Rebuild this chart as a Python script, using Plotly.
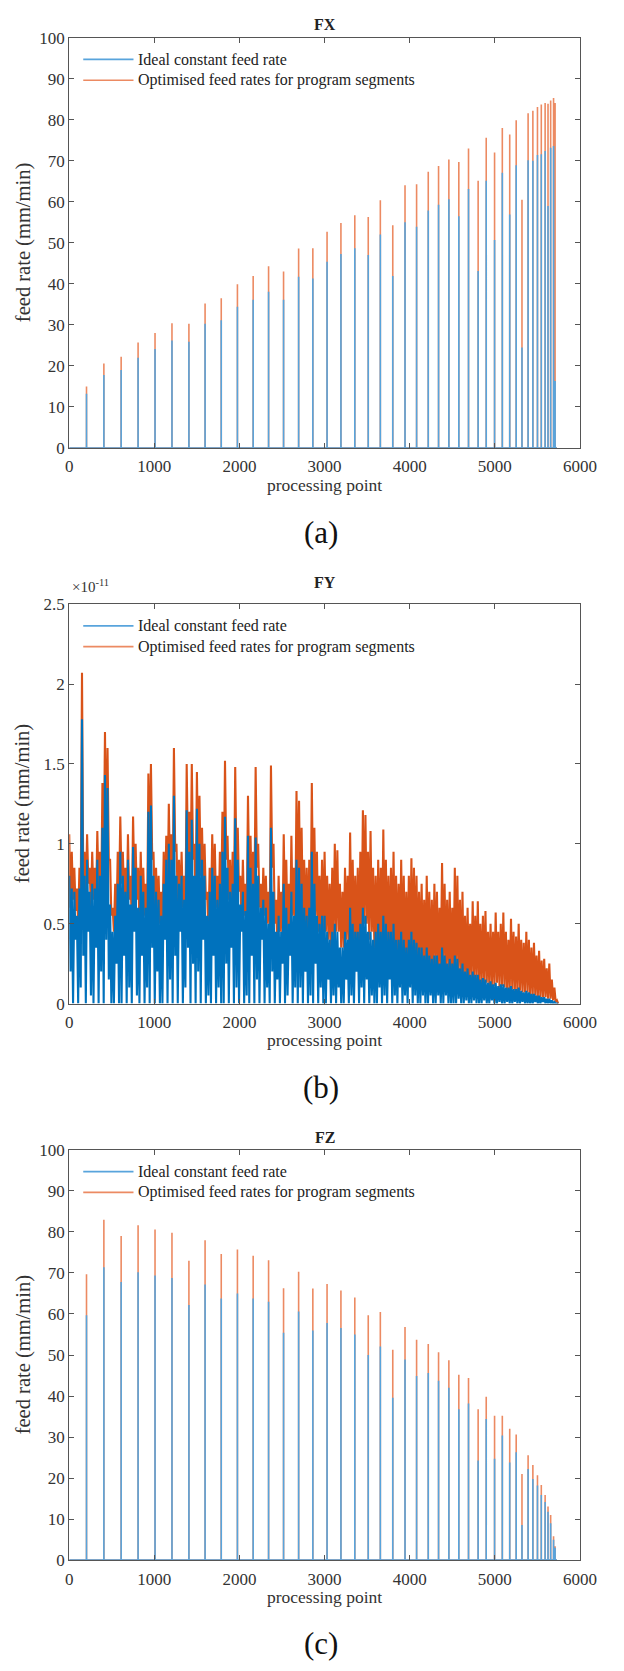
import plotly.graph_objects as go

FIG_W, FIG_H = 624, 1671
N_POINTS = 5730

# ---------------- data ----------------
# processing points where a new program segment starts (FX and FZ spikes)
seg_pos = [203, 407, 610, 809, 1008, 1207, 1406, 1596, 1786, 1976, 2161, 2342, 2518, 2695,
           2862, 3029, 3192, 3355, 3513, 3655, 3801, 3945, 4081, 4218, 4339, 4460, 4577, 4691,
           4804, 4899, 4997, 5088, 5175, 5251, 5319, 5391, 5447, 5501, 5546, 5591, 5625, 5656,
           5690, 5708]

fx_ideal = [13.2, 17.8, 19.0, 22.0, 24.1, 26.2, 25.9, 30.3, 31.1, 34.4, 36.1, 38.1, 36.1, 41.7,
            41.3, 45.4, 47.3, 48.7, 47.0, 52.0, 41.9, 55.0, 53.9, 57.9, 59.3, 60.6, 56.5, 63.1,
            43.1, 65.1, 50.7, 67.1, 56.9, 68.9, 24.5, 70.1, 70.0, 71.4, 71.6, 72.4, 59.0, 73.2,
            73.6, 16.3]
fx_opt = [15.0, 20.6, 22.2, 25.7, 28.0, 30.4, 30.3, 35.2, 36.5, 39.9, 41.9, 44.3, 43.0, 48.6,
          48.7, 52.7, 54.8, 56.7, 56.3, 60.4, 54.3, 64.0, 64.3, 67.3, 68.7, 70.3, 69.7, 73.0,
          65.1, 75.6, 72.0, 78.0, 76.4, 79.9, 60.5, 81.6, 82.2, 83.1, 83.7, 84.1, 83.9, 84.7,
          85.3, 84.1]

fz_ideal = [59.7, 71.4, 67.8, 70.2, 69.4, 68.8, 62.2, 67.2, 63.8, 65.0, 63.8, 63.0, 55.4, 60.6,
            56.0, 57.8, 56.6, 55.0, 50.0, 52.1, 39.6, 48.9, 44.9, 45.6, 43.7, 42.0, 36.8, 38.2,
            24.3, 34.4, 24.7, 30.4, 23.8, 26.3, 8.6, 22.2, 19.8, 18.2, 15.9, 14.2, 11.8, 9.0,
            5.0, 3.0]
fz_opt = [69.7, 83.0, 79.0, 81.6, 80.6, 79.8, 73.0, 78.0, 74.6, 75.7, 74.2, 73.1, 66.3, 70.3,
          66.2, 67.3, 65.7, 64.0, 59.7, 60.5, 51.3, 56.8, 53.7, 52.7, 50.7, 48.7, 45.2, 44.4,
          36.8, 39.8, 35.2, 35.2, 32.0, 30.6, 21.0, 25.6, 23.2, 20.7, 18.3, 15.9, 13.1, 11.0,
          5.8, 3.4]

# FY (units of 1e-11 mm/min): local maxima / minima read every 30 processing points
FY_STEP = 30
fy_opt_hi = [1.06, 0.95, 0.85, 0.72, 0.85, 2.07, 0.95, 1.06, 0.85, 0.95,
             0.85, 1.08, 0.95, 1.38, 1.70, 1.60, 0.90, 0.60, 0.75, 0.95,
             1.17, 0.95, 0.85, 1.06, 0.80, 1.17, 1.00, 0.85, 0.95, 0.85,
             0.75, 1.44, 1.50, 0.95, 0.85, 0.80, 0.70, 0.95, 1.05, 1.25,
             1.06, 1.60, 1.00, 0.90, 0.95, 0.80, 1.50, 1.20, 1.50, 1.00,
             1.45, 1.30, 1.10, 1.00, 0.70, 0.85, 1.06, 1.00, 0.80, 0.95,
             1.20, 1.52, 1.05, 0.90, 0.95, 1.48, 1.10, 0.80, 0.90, 0.75,
             1.30, 1.05, 0.95, 1.48, 1.00, 0.75, 0.85, 0.80, 0.70, 1.49,
             1.00, 0.65, 0.80, 0.70, 1.06, 0.90, 0.75, 1.05, 0.85, 1.33,
             1.27, 1.10, 0.90, 0.85, 0.90, 1.38, 1.10, 0.95, 0.80, 0.90,
             0.95, 0.80, 0.75, 0.85, 1.00, 0.96, 0.75, 0.70, 0.85, 0.80,
             1.07, 0.90, 0.80, 0.85, 0.95, 1.21, 1.18, 0.95, 1.08, 0.85,
             0.80, 0.90, 0.85, 1.09, 0.90, 0.80, 0.85, 0.95, 0.80, 0.75,
             0.90, 0.80, 0.70, 0.80, 0.91, 0.85, 0.80, 0.70, 0.75, 0.65,
             0.80, 0.70, 0.65, 0.75, 0.70, 0.60, 0.88, 0.75, 0.65, 0.70,
             0.60, 0.85, 0.80, 0.65, 0.70, 0.55, 0.60, 0.50, 0.64, 0.55,
             0.64, 0.50, 0.55, 0.58, 0.45, 0.50, 0.45, 0.57, 0.45, 0.50,
             0.57, 0.45, 0.40, 0.53, 0.45, 0.42, 0.50, 0.40, 0.38, 0.45,
             0.40, 0.35, 0.38, 0.30, 0.33, 0.27, 0.28, 0.22, 0.25, 0.15, 0.10, 0.02]
fy_opt_lo = [0.60, 0.65, 0.58, 0.50, 0.62, 0.75, 0.65, 0.75, 0.60, 0.65,
             0.62, 0.70, 0.62, 0.85, 0.95, 0.90, 0.55, 0.45, 0.50, 0.65,
             0.75, 0.62, 0.55, 0.65, 0.50, 0.75, 0.65, 0.50, 0.60, 0.55,
             0.50, 0.85, 0.90, 0.60, 0.55, 0.50, 0.45, 0.60, 0.65, 0.75,
             0.65, 0.95, 0.62, 0.58, 0.60, 0.50, 0.90, 0.75, 0.90, 0.60,
             0.85, 0.80, 0.70, 0.65, 0.45, 0.55, 0.65, 0.60, 0.50, 0.60,
             0.70, 0.90, 0.65, 0.55, 0.60, 0.85, 0.70, 0.50, 0.55, 0.50,
             0.75, 0.65, 0.60, 0.85, 0.60, 0.50, 0.55, 0.50, 0.45, 0.85,
             0.50, 0.35, 0.45, 0.40, 0.55, 0.45, 0.40, 0.55, 0.45, 0.65,
             0.60, 0.55, 0.45, 0.45, 0.45, 0.65, 0.55, 0.45, 0.40, 0.45,
             0.45, 0.40, 0.35, 0.40, 0.45, 0.45, 0.35, 0.35, 0.40, 0.35,
             0.45, 0.40, 0.35, 0.35, 0.40, 0.50, 0.50, 0.40, 0.45, 0.35,
             0.30, 0.35, 0.35, 0.40, 0.35, 0.30, 0.35, 0.35, 0.30, 0.30,
             0.30, 0.25, 0.25, 0.30, 0.30, 0.30, 0.25, 0.25, 0.25, 0.20,
             0.25, 0.20, 0.20, 0.25, 0.20, 0.20, 0.25, 0.20, 0.20, 0.20,
             0.16, 0.20, 0.20, 0.16, 0.16, 0.14, 0.16, 0.14, 0.16, 0.14,
             0.13, 0.11, 0.13, 0.13, 0.11, 0.11, 0.11, 0.13, 0.10, 0.11,
             0.10, 0.08, 0.08, 0.09, 0.08, 0.07, 0.08, 0.07, 0.07, 0.07,
             0.05, 0.05, 0.05, 0.04, 0.04, 0.04, 0.04, 0.03, 0.03, 0.02, 0.01, 0.00]
fy_ideal_hi = [0.80, 0.72, 0.70, 0.55, 0.72, 1.78, 0.80, 0.90, 0.70, 0.75,
               0.72, 0.90, 0.80, 1.10, 1.43, 1.35, 0.62, 0.45, 0.55, 0.75,
               0.95, 0.80, 0.70, 0.90, 0.62, 0.98, 0.85, 0.60, 0.80, 0.70,
               0.60, 1.20, 1.24, 0.80, 0.70, 0.65, 0.55, 0.75, 0.90, 1.00,
               0.90, 1.30, 0.80, 0.75, 0.80, 0.65, 1.21, 0.95, 1.15, 0.80,
               1.22, 1.00, 0.90, 0.80, 0.55, 0.70, 0.85, 0.80, 0.65, 0.75,
               0.95, 1.17, 0.85, 0.70, 0.75, 1.16, 0.90, 0.62, 0.70, 0.58,
               1.05, 0.85, 0.75, 1.04, 0.80, 0.60, 0.65, 0.60, 0.50, 1.10,
               0.70, 0.45, 0.55, 0.45, 0.75, 0.60, 0.50, 0.70, 0.55, 0.90,
               0.85, 0.75, 0.60, 0.55, 0.60, 0.95, 0.75, 0.55, 0.50, 0.55,
               0.55, 0.45, 0.40, 0.45, 0.50, 0.45, 0.35, 0.35, 0.45, 0.40,
               0.60, 0.50, 0.45, 0.45, 0.50, 0.60, 0.55, 0.45, 0.45, 0.40,
               0.45, 0.50, 0.45, 0.55, 0.50, 0.45, 0.45, 0.50, 0.40, 0.40,
               0.45, 0.40, 0.35, 0.40, 0.45, 0.40, 0.38, 0.35, 0.35, 0.30,
               0.35, 0.30, 0.28, 0.30, 0.30, 0.25, 0.35, 0.30, 0.25, 0.28,
               0.25, 0.30, 0.28, 0.22, 0.25, 0.20, 0.22, 0.18, 0.20, 0.18,
               0.18, 0.15, 0.16, 0.15, 0.13, 0.14, 0.12, 0.13, 0.11, 0.12,
               0.12, 0.10, 0.10, 0.11, 0.09, 0.09, 0.10, 0.08, 0.07, 0.08,
               0.07, 0.06, 0.06, 0.05, 0.05, 0.04, 0.04, 0.03, 0.03, 0.02, 0.01, 0.00]
fy_ideal_lo = [0.20, 0.00, 0.40, 0.00, 0.10, 0.30, 0.00, 0.45, 0.05, 0.00,
               0.35, 0.00, 0.20, 0.00, 0.40, 0.15, 0.00, 0.00, 0.25, 0.00,
               0.00, 0.30, 0.00, 0.10, 0.00, 0.45, 0.05, 0.00, 0.30, 0.00,
               0.10, 0.00, 0.35, 0.00, 0.20, 0.00, 0.00, 0.40, 0.00, 0.15,
               0.00, 0.30, 0.00, 0.45, 0.00, 0.10, 0.35, 0.00, 0.25, 0.00,
               0.20, 0.00, 0.40, 0.00, 0.05, 0.00, 0.30, 0.00, 0.10, 0.00,
               0.00, 0.25, 0.00, 0.35, 0.00, 0.10, 0.00, 0.45, 0.00, 0.05,
               0.00, 0.30, 0.00, 0.15, 0.00, 0.40, 0.00, 0.10, 0.00, 0.20,
               0.00, 0.15, 0.00, 0.25, 0.00, 0.05, 0.30, 0.00, 0.10, 0.00,
               0.10, 0.00, 0.20, 0.00, 0.05, 0.00, 0.25, 0.00, 0.10, 0.00,
               0.00, 0.15, 0.00, 0.05, 0.00, 0.10, 0.00, 0.00, 0.15, 0.00,
               0.05, 0.00, 0.20, 0.00, 0.10, 0.00, 0.15, 0.00, 0.05, 0.00,
               0.00, 0.10, 0.00, 0.05, 0.00, 0.15, 0.00, 0.05, 0.00, 0.10,
               0.00, 0.05, 0.00, 0.10, 0.00, 0.05, 0.00, 0.00, 0.05, 0.00,
               0.00, 0.05, 0.00, 0.00, 0.05, 0.00, 0.00, 0.05, 0.00, 0.00,
               0.00, 0.00, 0.03, 0.00, 0.00, 0.02, 0.00, 0.00, 0.02, 0.00,
               0.00, 0.00, 0.02, 0.00, 0.00, 0.02, 0.00, 0.00, 0.01, 0.00,
               0.00, 0.01, 0.00, 0.00, 0.01, 0.00, 0.00, 0.01, 0.00, 0.00,
               0.00, 0.00, 0.01, 0.00, 0.00, 0.01, 0.00, 0.00, 0.00, 0.00, 0.00, 0.00]

x_tickvals = [0, 1000, 2000, 3000, 4000, 5000, 6000]
y_ticks_f = [0, 10, 20, 30, 40, 50, 60, 70, 80, 90, 100]
y_ticks_fy = [0, 0.5, 1, 1.5, 2, 2.5]
y_ticktext_fy = ["0", "0.5", "1", "1.5", "2", "2.5"]

legend_names = ["Ideal constant feed rate", "Optimised feed rates for program segments"]

# ---------------- styles ----------------
FONT = "Liberation Serif"
TXT = "#333333"
AX = "#555555"
BLUE_SP = "rgb(88,164,220)"
ORNG_SP = "rgb(236,138,98)"
BLUE = "#0072BD"
ORNG = "#D95319"

L, R = 67.5, 596.0
panels = [
    dict(top=29, bottom=444, title="FX", title_y=16, cap="(a)", cap_y=530),
    dict(top=602, bottom=1006, title="FY", title_y=580, cap="(b)", cap_y=1091),
    dict(top=1154, bottom=1569, title="FZ", title_y=1141, cap="(c)", cap_y=1653),
]


def py(px):
    return 1 - px / FIG_H


def pxx(px):
    return px / FIG_W


def spike_series(pos, heights):
    xs, ys = [0], [0]
    for p, h in zip(pos, heights):
        xs += [p, p, p]
        ys += [0, h, 0]
    xs.append(N_POINTS)
    ys.append(0)
    return xs, ys


def zigzag_series(hi, lo):
    xs, ys = [], []
    for i, (a, b) in enumerate(zip(hi, lo)):
        xs += [i * FY_STEP, i * FY_STEP + FY_STEP / 2]
        ys += [a, b]
    return xs, ys


fig = go.Figure()

# FX
xo, yo = spike_series(seg_pos, fx_opt)
xi, yi = spike_series(seg_pos, fx_ideal)
fig.add_trace(go.Scatter(x=xo, y=yo, mode="lines", line=dict(color=ORNG_SP, width=1.6),
                         name=legend_names[1], showlegend=False, xaxis="x", yaxis="y"))
fig.add_trace(go.Scatter(x=xi, y=yi, mode="lines", line=dict(color=BLUE_SP, width=1.6),
                         name=legend_names[0], showlegend=False, xaxis="x", yaxis="y"))
# FY
xo, yo = zigzag_series(fy_opt_hi, fy_opt_lo)
xi, yi = zigzag_series(fy_ideal_hi, fy_ideal_lo)
fig.add_trace(go.Scatter(x=xo, y=yo, mode="lines", line=dict(color=ORNG, width=2.1),
                         name=legend_names[1], showlegend=False, xaxis="x2", yaxis="y2"))
fig.add_trace(go.Scatter(x=xi, y=yi, mode="lines", line=dict(color=BLUE, width=2.1),
                         name=legend_names[0], showlegend=False, xaxis="x2", yaxis="y2"))
# FZ
xo, yo = spike_series(seg_pos, fz_opt)
xi, yi = spike_series(seg_pos, fz_ideal)
fig.add_trace(go.Scatter(x=xo, y=yo, mode="lines", line=dict(color=ORNG_SP, width=1.6),
                         name=legend_names[1], showlegend=False, xaxis="x3", yaxis="y3"))
fig.add_trace(go.Scatter(x=xi, y=yi, mode="lines", line=dict(color=BLUE_SP, width=1.6),
                         name=legend_names[0], showlegend=False, xaxis="x3", yaxis="y3"))

axis_common = dict(showline=True, linecolor=AX, linewidth=1, mirror="ticks", ticks="inside",
                   ticklen=5, tickcolor=AX, tickwidth=1, showgrid=False, zeroline=False,
                   tickfont=dict(family=FONT, size=17, color=TXT))

layout = dict(width=FIG_W, height=FIG_H, margin=dict(l=0, r=0, t=0, b=0),
              paper_bgcolor="white", plot_bgcolor="white", showlegend=False)
annotations = []
shapes = []
for k, p in enumerate(panels):
    sfx = "" if k == 0 else str(k + 1)
    layout["xaxis" + sfx] = dict(axis_common, domain=[pxx(L), pxx(R)], range=[0, 6000],
                                 tickvals=x_tickvals, anchor="y" + sfx, ticklabelstandoff=3)
    if k == 1:
        yextra = dict(range=[0, 2.5], tickvals=y_ticks_fy, ticktext=y_ticktext_fy)
    else:
        yextra = dict(range=[0, 100], tickvals=y_ticks_f)
    layout["yaxis" + sfx] = dict(axis_common, domain=[py(p["bottom"]), py(p["top"])],
                                 anchor="x" + sfx, **yextra)
    cx = pxx((L + R) / 2)
    annotations.append(dict(text="<b>" + p["title"] + "</b>", x=cx, y=py(p["title_y"]),
                            xref="paper", yref="paper", showarrow=False, xanchor="center",
                            yanchor="middle", font=dict(family=FONT, size=16, color="#222")))
    annotations.append(dict(text="processing point", x=cx, y=py(p["bottom"] + 37),
                            xref="paper", yref="paper", showarrow=False, xanchor="center",
                            yanchor="middle", font=dict(family=FONT, size=17.5, color=TXT)))
    annotations.append(dict(text="feed rate (mm/min)", x=pxx(20),
                            y=py((p["top"] + p["bottom"]) / 2), textangle=-90,
                            xref="paper", yref="paper", showarrow=False, xanchor="center",
                            yanchor="middle", font=dict(family=FONT, size=20.5, color=TXT)))
    annotations.append(dict(text=p["cap"], x=pxx(328), y=py(p["cap_y"]),
                            xref="paper", yref="paper", showarrow=False, xanchor="center",
                            yanchor="middle", font=dict(family=FONT, size=31, color="#111")))
    # legend
    cols = [BLUE_SP, ORNG_SP]
    for j in range(2):
        ly = p["top"] + 22 + 21 * j
        shapes.append(dict(type="line", xref="paper", yref="paper", x0=pxx(82), x1=pxx(134),
                           y0=py(ly), y1=py(ly), line=dict(color=cols[j], width=1.6)))
        annotations.append(dict(text=legend_names[j], x=pxx(137), y=py(ly), xref="paper",
                                yref="paper", showarrow=False, xanchor="left", yanchor="middle",
                                font=dict(family=FONT, size=16, color="#222")))

annotations.append(dict(text="\u00d710<sup>-11</sup>", x=pxx(68), y=py(584), xref="paper",
                        yref="paper", showarrow=False, xanchor="left", yanchor="middle",
                        font=dict(family=FONT, size=15, color=TXT)))

layout["annotations"] = annotations
layout["shapes"] = shapes
fig.update_layout(**layout)
fig.write_html("out.html", config={"displayModeBar": False},
               post_script="document.body.style.margin='0px';")
